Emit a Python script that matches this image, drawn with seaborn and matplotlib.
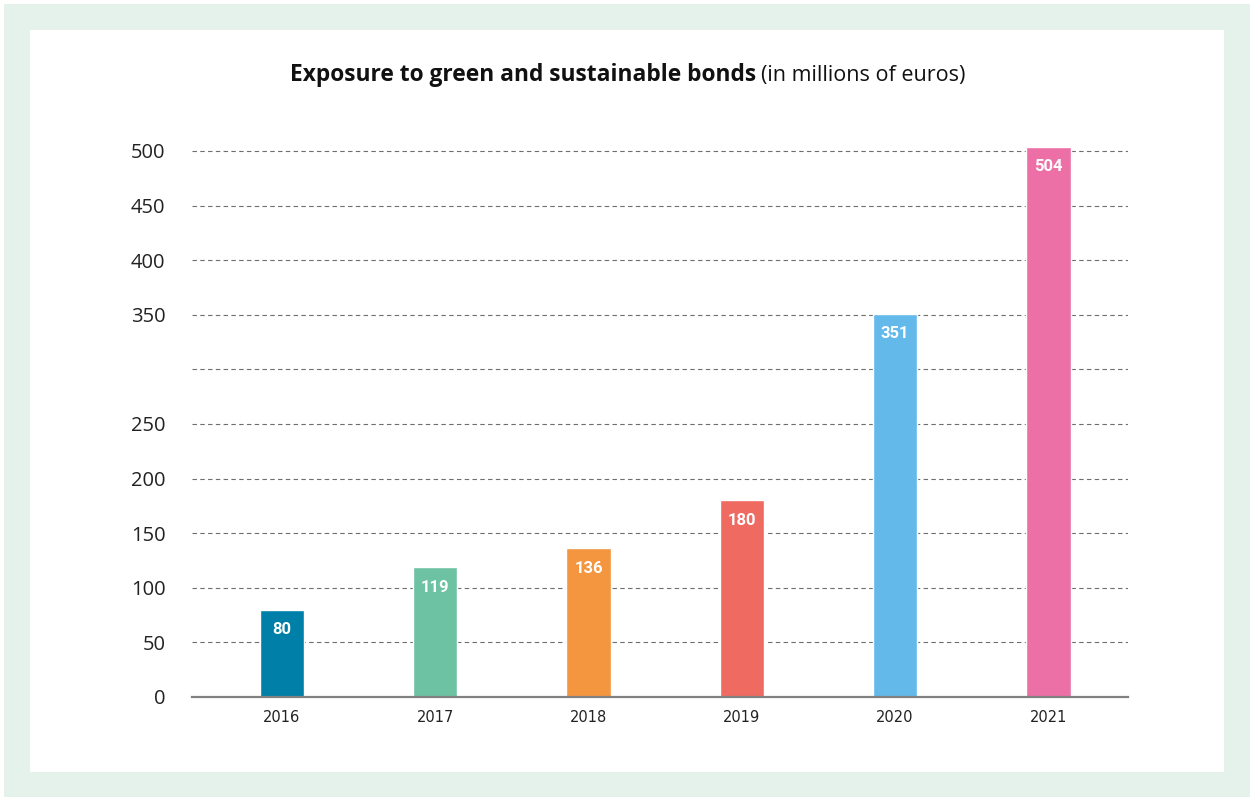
import matplotlib
matplotlib.use("Agg")
import matplotlib.pyplot as plt
import seaborn as sns
import pandas as pd
from matplotlib.patches import Rectangle

years = ["2016", "2017", "2018", "2019", "2020", "2021"]
values = [80, 119, 136, 180, 351, 504]
colors = ["#0080a8", "#6cc2a3", "#f4953f", "#ef6b62", "#63b9ea", "#ec6fa6"]
tick_values = [0, 50, 100, 150, 200, 250, 300, 350, 400, 450, 500]
tick_labels = ["0", "50", "100", "150", "200", "250", "", "350", "400", "450", "500"]
title_bold = "Exposure to green and sustainable bonds"
title_normal = "(in millions of euros)"

sns.set_theme(style="white")
plt.rcParams["font.family"] = ["DejaVu Sans"]

W, H = 1250, 797
fig = plt.figure(figsize=(W / 100, H / 100), dpi=100, facecolor="white")

# background frame
fig.patches.append(Rectangle((4 / W, 0), 1 - 4 / W, 1 - 4 / H, transform=fig.transFigure,
                             facecolor="#e5f2ec", edgecolor="none", zorder=-10))
fig.patches.append(Rectangle((30 / W, (H - 772) / H), 1194 / W, 742 / H, transform=fig.transFigure,
                             facecolor="white", edgecolor="none", zorder=-9))

ax = fig.add_axes([192 / W, (H - 697) / H, 936 / W, 557 / H])
ax.set_facecolor("none")

df = pd.DataFrame({"year": years, "value": values})
sns.barplot(data=df, x="year", y="value", hue="year", palette=colors, order=years,
            width=0.29, saturation=1, legend=False, ax=ax, zorder=3)

ax.set_ylim(0, 510)
ax.set_xlim(-0.587, 5.52)
ax.set_yticks(tick_values)
ax.set_yticklabels(tick_labels)
ax.yaxis.grid(True, linestyle=(0, (4, 3)), color="#6e6e6e", linewidth=0.8, zorder=0)
ax.xaxis.grid(False)
ax.set_axisbelow(True)
for s in ["top", "right", "left"]:
    ax.spines[s].set_visible(False)
ax.spines["bottom"].set_color("#808080")
ax.spines["bottom"].set_linewidth(1.6)
ax.spines["bottom"].set_zorder(4)
ax.tick_params(axis="y", length=0, pad=19, labelsize=14.5, labelcolor="#222222")
ax.tick_params(axis="x", length=0, pad=9, labelsize=10.5, labelcolor="#222222")
for lbl in ax.get_yticklabels():
    lbl.set_family(["Open Sans", "DejaVu Sans"])
ax.set_xlabel("")
ax.set_ylabel("")

for i, v in enumerate(values):
    ax.annotate(str(v), xy=(i, v), xytext=(0, -14.5), textcoords="offset points",
                ha="center", va="center", color="white", fontsize=12, fontweight="bold",
                family=["Roboto", "DejaVu Sans"], zorder=5)

ty = (H - 75) / H
fig.text(756 / W, ty, title_bold, ha="right", va="center", fontsize=16.4, fontweight="bold",
         family=["Open Sans", "DejaVu Sans"], color="#111111")
fig.text(761 / W, ty, title_normal, ha="left", va="center", fontsize=15.5,
         family=["Open Sans", "DejaVu Sans"], color="#111111")

fig.savefig("out.png", dpi=100, facecolor="white")
